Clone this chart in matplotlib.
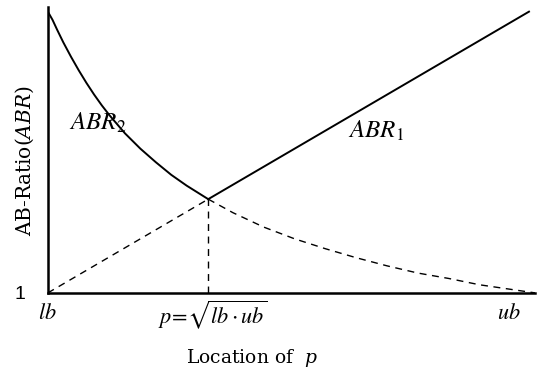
import matplotlib
matplotlib.use('Agg')
import matplotlib.pyplot as plt
import matplotlib.transforms as mtransforms

plt.rcParams['mathtext.fontset'] = 'stix'

# bounds and meeting point (lb = 1)
lb = 1.0
ub = 4.16
p_mid = 2.04

# ABR2 = ub / p, solid part (lb .. p) and dashed part (p .. ub)
abr2_p_solid = [1.0, 1.03, 1.06, 1.1, 1.15, 1.2, 1.25, 1.3, 1.35, 1.4, 1.5,
                1.6, 1.7, 1.8, 1.9, 2.04]
abr2_v_solid = [4.12, 4.03, 3.92, 3.78, 3.62, 3.47, 3.33, 3.20, 3.08, 2.97, 2.77,
                2.60, 2.45, 2.31, 2.19, 2.04]
abr2_p_dash = [2.04, 2.2, 2.4, 2.6, 2.8, 3.0, 3.2, 3.4, 3.6, 3.8, 4.0, 4.16]
abr2_v_dash = [2.04, 1.89, 1.73, 1.60, 1.49, 1.39, 1.30, 1.22, 1.16, 1.09, 1.04, 1.0]

# ABR1 = p / lb
abr1_p_dash = [1.0, 2.04]
abr1_v_dash = [1.0, 2.04]
abr1_p_solid = [2.04, 4.12]
abr1_v_solid = [2.04, 4.12]

fig = plt.figure(figsize=(5.5, 3.76), dpi=100)
ax = fig.add_axes([0.087, 0.221, 0.886, 0.76])

ax.plot(abr2_p_solid, abr2_v_solid, color='black', lw=1.4)
ax.plot(abr2_p_dash, abr2_v_dash, color='black', lw=1.0, ls=(0, (5, 4)))
ax.plot(abr1_p_dash, abr1_v_dash, color='black', lw=1.0, ls=(0, (5, 4)))
ax.plot(abr1_p_solid, abr1_v_solid, color='black', lw=1.4)
ax.plot([p_mid, p_mid], [1.0, p_mid], color='black', lw=1.0, ls=(0, (5, 4)))

ax.set_xlim(lb, ub)
ax.set_ylim(1.0, 4.17)
for s in ['top', 'right']:
    ax.spines[s].set_visible(False)
for s in ['left', 'bottom']:
    ax.spines[s].set_linewidth(1.8)
ax.set_xticks([])
ax.set_yticks([1.0])
ax.set_yticklabels(['1'], fontsize=14, family='Liberation Sans')
ax.tick_params(axis='y', length=0, pad=16)

trans = mtransforms.blended_transform_factory(ax.transData, ax.transAxes)
ax.text(lb, -0.035, r'$lb$', transform=trans, ha='center', va='top', fontsize=16)
ax.text(p_mid + 0.03, -0.02, r'$p\!=\!\sqrt{lb\cdot ub}$', transform=trans,
        ha='center', va='top', fontsize=16)
ax.text(3.99, -0.035, r'$ub$', transform=trans, ha='center', va='top', fontsize=16)

ax.text(1.325, 2.89, r'$ABR_2$', ha='center', va='center', fontsize=18)
ax.text(3.13, 2.80, r'$ABR_1$', ha='center', va='center', fontsize=18)

fig.text(252 / 550, 1 - 358 / 376, r'Location of  $p$', ha='center', va='center',
         fontsize=13.5, family='DejaVu Serif', math_fontfamily='dejavuserif')
fig.text(25 / 550, 1 - 161 / 376, r'AB-Ratio($ABR$)', ha='center', va='center',
         rotation=90, fontsize=14.5, family='DejaVu Serif',
         math_fontfamily='dejavuserif')

fig.savefig('out.png', dpi=100)
